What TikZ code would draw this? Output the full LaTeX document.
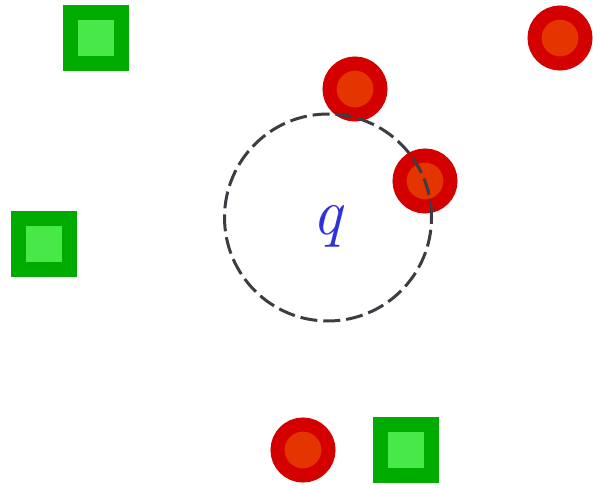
\documentclass[tikz,border=0pt]{standalone}
\usepackage{fontspec}
\usepackage{xcolor}
\usepackage{tikz}
\usetikzlibrary{positioning}

\definecolor{boxgreen}{RGB}{0,172,0}
\definecolor{boxlight}{RGB}{72,232,72}
\definecolor{dotred}{RGB}{212,0,0}
\definecolor{dotorange}{RGB}{228,52,0}
\definecolor{rangegray}{RGB}{60,60,66}
\definecolor{qblue}{RGB}{48,48,220}

\begin{document}
\begin{tikzpicture}[
  x=1pt, y=-1pt,
  sq/.style={rectangle, draw=boxgreen, fill=boxlight, line width=15pt, minimum size=51pt, inner sep=0pt},
  dot/.style={circle, draw=dotred, fill=dotorange, line width=14pt, minimum size=51pt, inner sep=0pt},
  qball/.style={circle, draw=rangegray, line width=3pt, dash pattern=on 17pt off 6pt, minimum size=207pt, inner sep=0pt}
]
  \useasboundingbox (0,0) rectangle (593,487);
  \node[sq] (s1) at (96,38) {};
  \node[sq] (s2) at (44,244) {};
  \node[sq] (s3) at (406,450) {};
  \node[dot] (d1) at (355,89) {};
  \node[dot] (d2) at (560,38) {};
  \node[dot] (d3) at (425,181) {};
  \node[dot] (d4) at (303,450) {};
  \node[qball] (ball) at (328,217.5) {};
  \node[text=qblue, font=\fontsize{66}{66}\selectfont\itshape] (q) at (327,226) {q};
\end{tikzpicture}
\end{document}
